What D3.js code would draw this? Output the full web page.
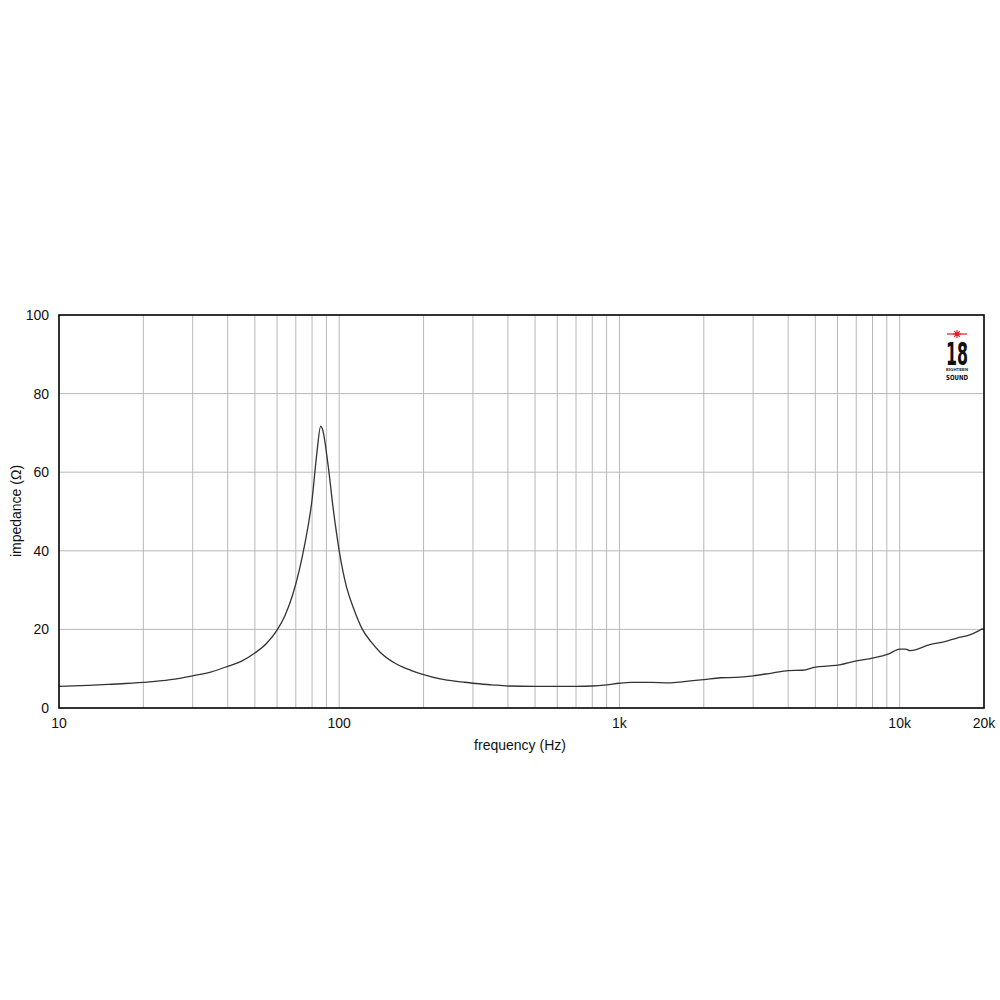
<!DOCTYPE html>
<html><head><meta charset="utf-8">
<script src="https://cdn.jsdelivr.net/npm/d3@7"></script>
<style>body{margin:0;background:#fff}svg{display:block}</style>
</head><body>
<svg id="c" width="1000" height="1000"></svg>
<script>
const freq = [10,12.7,15,20,25,30,35,40,45,50,55,60,64,68,72,75.5,80,83.2,85.9,87.0,91.4,95.3,100,106,113,121,130,140,160,180,200,229,277,300,350,400,500,600,700,800,900,1000,1100,1300,1500,1700,2000,2300,2600,3000,3500,4000,4500,5000,5600,6100,7000,8000,9100,10000,10500,10900,12800,14500,16000,17800,19200,19700,20000];
const impedance = [5.5,5.75,6.0,6.5,7.2,8.2,9.2,10.6,12.0,14.0,16.4,19.8,23.5,28.5,35.0,42.0,53.0,64.8,71.7,71.1,61.4,50.4,40.0,31.0,25.0,20.0,16.8,14.2,11.2,9.6,8.5,7.4,6.6,6.3,5.9,5.6,5.5,5.5,5.5,5.6,5.9,6.3,6.5,6.5,6.4,6.7,7.2,7.7,7.8,8.2,8.9,9.5,9.6,10.4,10.7,11.0,12.0,12.7,13.7,15.0,15.0,14.6,16.1,16.9,17.8,18.6,19.7,20.1,20.0];
const xGrid = [20,30,40,50,60,70,80,90,100,200,300,400,500,600,700,800,900,1000,2000,3000,4000,5000,6000,7000,8000,9000,10000];
const xTicks = [10,100,1000,10000,20000];
const xTickLabels = ["10","100","1k","10k","20k"];
const yTicks = [0,20,40,60,80,100];

const svg = d3.select("#c");
const L=59, R=984, T=315, B=708;
const x = d3.scaleLog().domain([10,20000]).range([L,R]);
const y = d3.scaleLinear().domain([0,100]).range([B,T]);
const font = "Liberation Sans, Arial, sans-serif";

// grid
svg.append("g").selectAll("line").data(xGrid).join("line")
  .attr("x1",d=>x(d)).attr("x2",d=>x(d)).attr("y1",T).attr("y2",B)
  .attr("stroke","#b8b8b8").attr("stroke-width",1);
svg.append("g").selectAll("line").data(yTicks.filter(d=>d>0&&d<100)).join("line")
  .attr("x1",L).attr("x2",R).attr("y1",d=>y(d)).attr("y2",d=>y(d))
  .attr("stroke","#b8b8b8").attr("stroke-width",1);

// curve
const line = d3.line().x((d,i)=>x(freq[i])).y(d=>y(d)).curve(d3.curveMonotoneX);
svg.append("path").attr("d",line(impedance)).attr("fill","none")
  .attr("stroke","#333").attr("stroke-width",1.3);

// frame
svg.append("rect").attr("x",L).attr("y",T).attr("width",R-L).attr("height",B-T)
  .attr("fill","none").attr("stroke","#000").attr("stroke-width",1.6);

// y tick labels
svg.append("g").selectAll("text").data(yTicks).join("text")
  .attr("x",49).attr("y",d=>y(d)).attr("dy","0.35em").attr("text-anchor","end")
  .attr("font-family",font).attr("font-size",14).attr("fill","#111").text(d=>d);
// x tick labels
svg.append("g").selectAll("text").data(xTicks).join("text")
  .attr("x",d=>x(d)).attr("y",723).attr("dy","0.35em").attr("text-anchor","middle")
  .attr("font-family",font).attr("font-size",14).attr("fill","#111").text((d,i)=>xTickLabels[i]);

// axis titles
svg.append("text").attr("x",520).attr("y",745).attr("dy","0.35em").attr("text-anchor","middle")
  .attr("font-family",font).attr("font-size",14).attr("fill","#111").text("frequency (Hz)");
svg.append("text").attr("transform","translate(16,511) rotate(-90)").attr("dy","0.35em")
  .attr("text-anchor","middle").attr("font-family",font).attr("font-size",14).attr("fill","#111")
  .text("impedance (Ω)");

// logo
const lg = svg.append("g");
const cx=957, cy=334;
lg.append("line").attr("x1",cx-10).attr("x2",cx+10).attr("y1",cy).attr("y2",cy).attr("stroke","#e0202a").attr("stroke-width",1.2);
[0,45,90,135].forEach(a=>{
  const r=4, ra=a*Math.PI/180;
  lg.append("line").attr("x1",cx-r*Math.cos(ra)).attr("x2",cx+r*Math.cos(ra))
    .attr("y1",cy-r*Math.sin(ra)).attr("y2",cy+r*Math.sin(ra)).attr("stroke","#e0202a").attr("stroke-width",1.2);
});
lg.append("circle").attr("cx",cx).attr("cy",cy).attr("r",2).attr("fill","#e0202a");
lg.append("text").attr("x",cx).attr("y",365).attr("text-anchor","middle")
  .attr("font-family","DejaVu Sans Condensed, DejaVu Sans, sans-serif").attr("font-weight","bold")
  .attr("font-size",32).attr("textLength",22).attr("lengthAdjust","spacingAndGlyphs").attr("fill","#111").text("18");
lg.append("text").attr("x",cx).attr("y",371).attr("text-anchor","middle")
  .attr("font-family",font).attr("font-weight","bold").attr("font-size",3)
  .attr("textLength",22).attr("lengthAdjust","spacingAndGlyphs").attr("fill","#111").text("EIGHTEEN");
lg.append("text").attr("x",cx).attr("y",380).attr("text-anchor","middle")
  .attr("font-family","DejaVu Sans Condensed, DejaVu Sans, sans-serif").attr("font-weight","bold").attr("font-size",7)
  .attr("textLength",22).attr("lengthAdjust","spacingAndGlyphs").attr("fill","#111").text("SOUND");
</script>
</body></html>
